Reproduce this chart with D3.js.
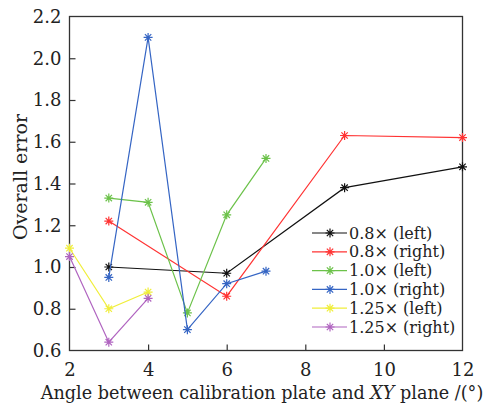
<!DOCTYPE html>
<html>
<head>
<meta charset="utf-8">
<script src="https://cdn.jsdelivr.net/npm/d3@7"></script>
<style>
  body { margin: 0; background: #fff; }
  text { font-family: "DejaVu Serif", serif; fill: #222; }
</style>
</head>
<body>
<div id="chart"></div>
<script>
// data
const seriesNames = ['0.8\u00d7 (left)', '0.8\u00d7 (right)', '1.0\u00d7 (left)', '1.0\u00d7 (right)', '1.25\u00d7 (left)', '1.25\u00d7 (right)'];
const seriesColors = ['#111111', '#ff3333', '#6cc24a', '#3565c4', '#f0ee3a', '#b064c0'];
const angles08 = [3, 6, 9, 12];
const left08 = [1.00, 0.97, 1.38, 1.48];
const right08 = [1.22, 0.86, 1.63, 1.62];
const angles10 = [3, 4, 5, 6, 7];
const left10 = [1.33, 1.31, 0.78, 1.25, 1.52];
const right10 = [0.95, 2.10, 0.70, 0.92, 0.98];
const angles125 = [2, 3, 4];
const left125 = [1.09, 0.80, 0.88];
const right125 = [1.05, 0.64, 0.85];
const xTicks = [2, 4, 6, 8, 10, 12];
const yTicks = [0.6, 0.8, 1.0, 1.2, 1.4, 1.6, 1.8, 2.0, 2.2];

const series = [
    { xs: angles08, ys: left08 },
    { xs: angles08, ys: right08 },
    { xs: angles10, ys: left10 },
    { xs: angles10, ys: right10 },
    { xs: angles125, ys: left125 },
    { xs: angles125, ys: right125 },
].map((s, i) => ({ name: seriesNames[i], color: seriesColors[i], pts: s.xs.map((x, j) => [x, s.ys[j]]) }));

const W = 497, H = 406;
const plot = { left: 69.5, top: 16.5, right: 462.5, bottom: 350.5 };

const svg = d3.select('#chart').append('svg')
    .attr('width', W)
    .attr('height', H);

const x = d3.scaleLinear().domain([2, 12]).range([plot.left, plot.right]);
const y = d3.scaleLinear().domain([0.6, 2.2]).range([plot.bottom, plot.top]);

// frame
svg.append('rect')
    .attr('x', plot.left).attr('y', plot.top)
    .attr('width', plot.right - plot.left).attr('height', plot.bottom - plot.top)
    .attr('fill', 'none').attr('stroke', '#333').attr('stroke-width', 1.3);

// axes with inward ticks
const xAxis = svg.append('g')
    .attr('transform', `translate(0,${plot.bottom})`)
    .call(d3.axisBottom(x).tickValues(xTicks).tickFormat(d3.format('d')).tickSizeInner(-6).tickSizeOuter(0).tickPadding(13));
const yAxis = svg.append('g')
    .attr('transform', `translate(${plot.left},0)`)
    .call(d3.axisLeft(y).tickValues(yTicks).tickFormat(d3.format('.1f')).tickSizeInner(-6).tickSizeOuter(0).tickPadding(8));

[xAxis, yAxis].forEach(ax => {
    ax.select('.domain').remove();
    ax.selectAll('line').attr('stroke', '#333').attr('stroke-width', 1.2);
    ax.selectAll('text').style('font-size', '18px').attr('fill', '#222');
});
// ticks at the frame corners are hidden by the frame
xAxis.selectAll('.tick').filter(d => d === 2 || d === 12).select('line').remove();
yAxis.selectAll('.tick').filter(d => d === 0.6 || d === 2.2).select('line').remove();

// axis titles
const xt = svg.append('text')
    .attr('x', 262)
    .attr('y', 399)
    .attr('text-anchor', 'middle')
    .style('font-size', '17.6px');
xt.append('tspan').text('Angle between calibration plate and ');
xt.append('tspan').style('font-style', 'italic').text('XY');
xt.append('tspan').text(' plane /(\u00b0)');

svg.append('text')
    .attr('transform', 'translate(27,177) rotate(-90)')
    .attr('text-anchor', 'middle')
    .style('font-size', '19px')
    .text('Overall error');

// asterisk marker path
function star(r) {
    let p = '';
    for (let k = 0; k < 4; k++) {
        const a = k * Math.PI / 4;
        const dx = r * Math.cos(a), dy = r * Math.sin(a);
        p += `M${-dx},${-dy}L${dx},${dy}`;
    }
    return p;
}

const line = d3.line().x(d => x(d[0])).y(d => y(d[1]));

const g = svg.append('g');
series.forEach(s => {
    g.append('path')
        .attr('d', line(s.pts))
        .attr('fill', 'none')
        .attr('stroke', s.color)
        .attr('stroke-width', 1.2);
    g.selectAll(null)
        .data(s.pts)
        .join('path')
        .attr('transform', d => `translate(${x(d[0])},${y(d[1])})`)
        .attr('d', star(4.5))
        .attr('stroke', s.color)
        .attr('stroke-width', 1.2);
});

// legend
const leg = svg.append('g').attr('transform', 'translate(312,233)');
series.forEach((s, i) => {
    const row = leg.append('g').attr('transform', `translate(0,${i * 18.8})`);
    row.append('line').attr('x1', 0).attr('x2', 35).attr('y1', 0).attr('y2', 0)
        .attr('stroke', s.color).attr('stroke-width', 1.2);
    row.append('path').attr('transform', 'translate(18,0)').attr('d', star(4.5))
        .attr('stroke', s.color).attr('stroke-width', 1.2);
    row.append('text').attr('x', 37).attr('y', 0).attr('dy', '0.35em')
        .style('font-size', '16px')
        .text(s.name);
});
</script>
</body>
</html>
